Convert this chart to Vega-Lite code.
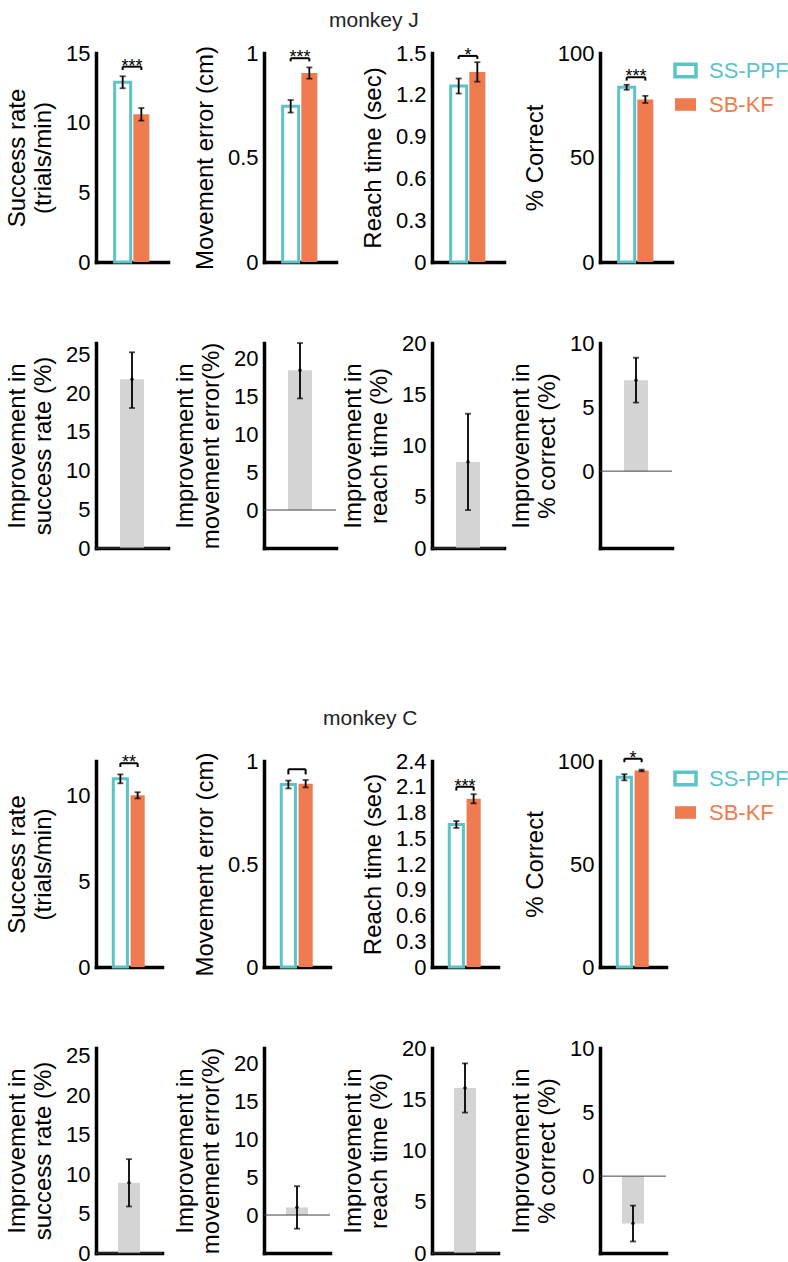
{
"$schema":"https://vega.github.io/schema/vega-lite/v6.json",
"padding":{"left":5,"top":10,"right":0,"bottom":5},
"config":{"font":"Liberation Sans","view":{"stroke":null},
"axis":{"domainColor":"black","domainWidth":3.5,"domainCap":"square","ticks":false,"tickSize":0,"grid":false,"labelFontSize":22,"labelColor":"black","labelPadding":6,"titleFontSize":24,"titleFontWeight":"normal","titleColor":"black","titlePadding":10,"titleLineHeight":26,"zindex":1,"labelOverlap":false,"labelFlush":false,"labelBound":false},
"title":{"font":"Liberation Sans","fontSize":21,"fontWeight":"normal","color":"#222"}},
"datasets":{
"bars":[
{"m":"J","k":"sr","algo":"SS-PPF","v":12.9,"lo":12.47,"hi":13.33,"bk":14.02,"bk2":13.78,"sig":"***"},
{"m":"J","k":"sr","algo":"SB-KF","v":10.6,"lo":10.15,"hi":11.05,"bk":14.02,"bk2":13.78,"sig":"***"},
{"m":"J","k":"me","algo":"SS-PPF","v":0.745,"lo":0.715,"hi":0.775,"bk":0.975,"bk2":0.96,"sig":"***"},
{"m":"J","k":"me","algo":"SB-KF","v":0.904,"lo":0.877,"hi":0.931,"bk":0.975,"bk2":0.96,"sig":"***"},
{"m":"J","k":"rt","algo":"SS-PPF","v":1.263,"lo":1.209,"hi":1.317,"bk":1.479,"bk2":1.457,"sig":"*"},
{"m":"J","k":"rt","algo":"SB-KF","v":1.364,"lo":1.294,"hi":1.434,"bk":1.479,"bk2":1.457,"sig":"*"},
{"m":"J","k":"pc","algo":"SS-PPF","v":83.6,"lo":82.4,"hi":84.8,"bk":88.4,"bk2":86.8,"sig":"***"},
{"m":"J","k":"pc","algo":"SB-KF","v":77.8,"lo":76.1,"hi":79.5,"bk":88.4,"bk2":86.8,"sig":"***"},
{"m":"C","k":"sr","algo":"SS-PPF","v":10.96,"lo":10.7,"hi":11.22,"bk":11.87,"bk2":11.65,"sig":"**"},
{"m":"C","k":"sr","algo":"SB-KF","v":10.0,"lo":9.82,"hi":10.18,"bk":11.87,"bk2":11.65,"sig":"**"},
{"m":"C","k":"me","algo":"SS-PPF","v":0.886,"lo":0.867,"hi":0.905,"bk":0.96,"bk2":0.935,"sig":""},
{"m":"C","k":"me","algo":"SB-KF","v":0.89,"lo":0.872,"hi":0.908,"bk":0.96,"bk2":0.935,"sig":""},
{"m":"C","k":"rt","algo":"SS-PPF","v":1.66,"lo":1.62,"hi":1.7,"bk":2.1,"bk2":2.055,"sig":"***"},
{"m":"C","k":"rt","algo":"SB-KF","v":1.96,"lo":1.907,"hi":2.013,"bk":2.1,"bk2":2.055,"sig":"***"},
{"m":"C","k":"pc","algo":"SS-PPF","v":92.1,"lo":90.6,"hi":93.6,"bk":101.1,"bk2":99.4,"sig":"*"},
{"m":"C","k":"pc","algo":"SB-KF","v":95.4,"lo":95.0,"hi":95.8,"bk":101.1,"bk2":99.4,"sig":"*"}
],
"imp":[
{"m":"J","k":"sr","v":21.8,"lo":18.1,"hi":25.3},
{"m":"J","k":"me","v":18.4,"lo":14.7,"hi":22.0},
{"m":"J","k":"rt","v":8.4,"lo":3.7,"hi":13.1},
{"m":"J","k":"pc","v":7.1,"lo":5.35,"hi":8.85},
{"m":"C","k":"sr","v":8.9,"lo":5.9,"hi":11.9},
{"m":"C","k":"me","v":1.0,"lo":-1.8,"hi":3.8},
{"m":"C","k":"rt","v":16.1,"lo":13.7,"hi":18.5},
{"m":"C","k":"pc","v":-3.7,"lo":-5.1,"hi":-2.3}
],
"blank":[{"z":0}]
},
"columns":4,"spacing":{"row":81,"column":96},"bounds":"flush","align":"each",
"resolve":{"scale":{"fill":"independent","stroke":"independent"},"legend":{"fill":"independent","stroke":"independent"}},
"concat":[
{"width":72,"height":209,"data":{"name":"bars"},"transform":[{"filter":"datum.m=='J' && datum.k=='sr'"}],
"layer":[
{"mark":{"type":"bar","strokeWidth":3},"encoding":{
"x":{"field":"algo","type":"nominal","scale":{"domain":["SS-PPF","SB-KF"],"paddingInner":0.143,"paddingOuter":1.128},"axis":{"labels":false,"title":null}},
"y":{"field":"v","type":"quantitative","scale":{"domain":[0,15],"nice":false},"axis":{"values":[0,5,10,15],"tickCount":12,"format":"~f","title":["Success rate","(trials/min)"]}},
"fill":{"condition":{"test":"datum.algo=='SS-PPF'","value":"white"},"value":"#ee7c50"},
"stroke":{"condition":{"test":"datum.algo=='SS-PPF'","value":"#5bc4c8"},"value":"transparent"}}},
{"mark":{"type":"rule","color":"black","strokeWidth":1.8},"encoding":{"x":{"field":"algo","type":"nominal"},"y":{"field":"lo","type":"quantitative"},"y2":{"field":"hi"}}},
{"mark":{"type":"tick","color":"black","size":6,"thickness":1.8},"encoding":{"x":{"field":"algo","type":"nominal"},"y":{"field":"lo","type":"quantitative"}}},
{"mark":{"type":"tick","color":"black","size":6,"thickness":1.8},"encoding":{"x":{"field":"algo","type":"nominal"},"y":{"field":"hi","type":"quantitative"}}},
{"mark":{"type":"line","color":"black","strokeWidth":2},"encoding":{"x":{"field":"algo","type":"nominal"},"y":{"field":"bk","type":"quantitative"}}},
{"mark":{"type":"rule","color":"black","strokeWidth":2},"encoding":{"x":{"field":"algo","type":"nominal"},"y":{"field":"bk","type":"quantitative"},"y2":{"field":"bk2"}}},
{"transform":[{"filter":"datum.algo=='SS-PPF'"}],"mark":{"type":"text","fontSize":18,"baseline":"alphabetic","dy":5,"color":"black"},"encoding":{"x":{"field":"algo","type":"nominal","bandPosition":1.083},"y":{"field":"bk","type":"quantitative"},"text":{"field":"sig"}}}
]},
{"width":72,"height":209,"data":{"name":"bars"},"transform":[{"filter":"datum.m=='J' && datum.k=='me'"}],
"title":{"text":"monkey J","anchor":"start","frame":"group","dx":65,"offset":11},
"layer":[
{"mark":{"type":"bar","strokeWidth":3},"encoding":{
"x":{"field":"algo","type":"nominal","scale":{"domain":["SS-PPF","SB-KF"],"paddingInner":0.143,"paddingOuter":1.128},"axis":{"labels":false,"title":null}},
"y":{"field":"v","type":"quantitative","scale":{"domain":[0,1],"nice":false},"axis":{"values":[0,0.5,1],"tickCount":12,"format":"~f","title":"Movement error (cm)"}},
"fill":{"condition":{"test":"datum.algo=='SS-PPF'","value":"white"},"value":"#ee7c50"},
"stroke":{"condition":{"test":"datum.algo=='SS-PPF'","value":"#5bc4c8"},"value":"transparent"}}},
{"mark":{"type":"rule","color":"black","strokeWidth":1.8},"encoding":{"x":{"field":"algo","type":"nominal"},"y":{"field":"lo","type":"quantitative"},"y2":{"field":"hi"}}},
{"mark":{"type":"tick","color":"black","size":6,"thickness":1.8},"encoding":{"x":{"field":"algo","type":"nominal"},"y":{"field":"lo","type":"quantitative"}}},
{"mark":{"type":"tick","color":"black","size":6,"thickness":1.8},"encoding":{"x":{"field":"algo","type":"nominal"},"y":{"field":"hi","type":"quantitative"}}},
{"mark":{"type":"line","color":"black","strokeWidth":2},"encoding":{"x":{"field":"algo","type":"nominal"},"y":{"field":"bk","type":"quantitative"}}},
{"mark":{"type":"rule","color":"black","strokeWidth":2},"encoding":{"x":{"field":"algo","type":"nominal"},"y":{"field":"bk","type":"quantitative"},"y2":{"field":"bk2"}}},
{"transform":[{"filter":"datum.algo=='SS-PPF'"}],"mark":{"type":"text","fontSize":18,"baseline":"alphabetic","dy":5,"color":"black"},"encoding":{"x":{"field":"algo","type":"nominal","bandPosition":1.083},"y":{"field":"bk","type":"quantitative"},"text":{"field":"sig"}}}
]},
{"width":72,"height":209,"data":{"name":"bars"},"transform":[{"filter":"datum.m=='J' && datum.k=='rt'"}],
"layer":[
{"mark":{"type":"bar","strokeWidth":3},"encoding":{
"x":{"field":"algo","type":"nominal","scale":{"domain":["SS-PPF","SB-KF"],"paddingInner":0.143,"paddingOuter":1.128},"axis":{"labels":false,"title":null}},
"y":{"field":"v","type":"quantitative","scale":{"domain":[0,1.5],"nice":false},"axis":{"values":[0,0.3,0.6,0.9,1.2,1.5],"tickCount":12,"format":"~f","labelOverlap":false,"title":"Reach time (sec)"}},
"fill":{"condition":{"test":"datum.algo=='SS-PPF'","value":"white"},"value":"#ee7c50"},
"stroke":{"condition":{"test":"datum.algo=='SS-PPF'","value":"#5bc4c8"},"value":"transparent"}}},
{"mark":{"type":"rule","color":"black","strokeWidth":1.8},"encoding":{"x":{"field":"algo","type":"nominal"},"y":{"field":"lo","type":"quantitative"},"y2":{"field":"hi"}}},
{"mark":{"type":"tick","color":"black","size":6,"thickness":1.8},"encoding":{"x":{"field":"algo","type":"nominal"},"y":{"field":"lo","type":"quantitative"}}},
{"mark":{"type":"tick","color":"black","size":6,"thickness":1.8},"encoding":{"x":{"field":"algo","type":"nominal"},"y":{"field":"hi","type":"quantitative"}}},
{"mark":{"type":"line","color":"black","strokeWidth":2},"encoding":{"x":{"field":"algo","type":"nominal"},"y":{"field":"bk","type":"quantitative"}}},
{"mark":{"type":"rule","color":"black","strokeWidth":2},"encoding":{"x":{"field":"algo","type":"nominal"},"y":{"field":"bk","type":"quantitative"},"y2":{"field":"bk2"}}},
{"transform":[{"filter":"datum.algo=='SS-PPF'"}],"mark":{"type":"text","fontSize":18,"baseline":"alphabetic","dy":5,"color":"black"},"encoding":{"x":{"field":"algo","type":"nominal","bandPosition":1.083},"y":{"field":"bk","type":"quantitative"},"text":{"field":"sig"}}}
]},
{"width":72,"height":209,"data":{"name":"bars"},"transform":[{"filter":"datum.m=='J' && datum.k=='pc'"}],
"layer":[
{"mark":{"type":"bar","strokeWidth":3},"encoding":{
"x":{"field":"algo","type":"nominal","scale":{"domain":["SS-PPF","SB-KF"],"paddingInner":0.143,"paddingOuter":1.128},"axis":{"labels":false,"title":null}},
"y":{"field":"v","type":"quantitative","scale":{"domain":[0,100],"nice":false},"axis":{"values":[0,50,100],"tickCount":12,"format":"~f","title":"% Correct"}},
"fill":{"field":"algo","type":"nominal","scale":{"domain":["SS-PPF","SB-KF"],"range":["white","#ee7c50"]},
 "legend":{"title":null,"orient":"right","offset":-4,"padding":5,"symbolType":"M-1,-0.6H1V0.6H-1Z","symbolSize":441,"symbolStrokeWidth":3.5,"labelFontSize":22,"labelOffset":11,"rowPadding":7,"labelFont":"Liberation Sans",
  "encode":{"labels":{"update":{"fill":{"signal":"datum.label=='SS-PPF' ? '#5bc4c8' : '#ee7c50'"}}}}
 }
},
"stroke":{"field":"algo","type":"nominal","scale":{"domain":["SS-PPF","SB-KF"],"range":["#5bc4c8","transparent"]},
 "legend":{"title":null,"orient":"right","offset":-4,"padding":5,"symbolType":"M-1,-0.6H1V0.6H-1Z","symbolSize":441,"symbolStrokeWidth":3.5,"labelFontSize":22,"labelOffset":11,"rowPadding":7,"labelFont":"Liberation Sans",
  "encode":{"labels":{"update":{"fill":{"signal":"datum.label=='SS-PPF' ? '#5bc4c8' : '#ee7c50'"}}}}
 }
}
}},
{"mark":{"type":"rule","color":"black","strokeWidth":1.8},"encoding":{"x":{"field":"algo","type":"nominal"},"y":{"field":"lo","type":"quantitative"},"y2":{"field":"hi"}}},
{"mark":{"type":"tick","color":"black","size":6,"thickness":1.8},"encoding":{"x":{"field":"algo","type":"nominal"},"y":{"field":"lo","type":"quantitative"}}},
{"mark":{"type":"tick","color":"black","size":6,"thickness":1.8},"encoding":{"x":{"field":"algo","type":"nominal"},"y":{"field":"hi","type":"quantitative"}}},
{"mark":{"type":"line","color":"black","strokeWidth":2},"encoding":{"x":{"field":"algo","type":"nominal"},"y":{"field":"bk","type":"quantitative"}}},
{"mark":{"type":"rule","color":"black","strokeWidth":2},"encoding":{"x":{"field":"algo","type":"nominal"},"y":{"field":"bk","type":"quantitative"},"y2":{"field":"bk2"}}},
{"transform":[{"filter":"datum.algo=='SS-PPF'"}],"mark":{"type":"text","fontSize":18,"baseline":"alphabetic","dy":5,"color":"black"},"encoding":{"x":{"field":"algo","type":"nominal","bandPosition":1.083},"y":{"field":"bk","type":"quantitative"},"text":{"field":"sig"}}}
]},
{"width":72,"height":205,"data":{"name":"imp"},"transform":[{"filter":"datum.m=='J' && datum.k=='sr'"}],
"layer":[
{"mark":{"type":"bar","color":"#d4d4d4"},"encoding":{"x":{"field":"m","type":"nominal","scale":{"paddingInner":0,"paddingOuter":1.35},"axis":{"labels":false,"title":null}},"y":{"field":"v","type":"quantitative","scale":{"domain":[0,26.5],"nice":false},"axis":{"values":[0,5,10,15,20,25],"tickCount":12,"format":"~f","title":["Improvement in","success rate (%)"]}}}},
{"mark":{"type":"rule","color":"#444","strokeWidth":1},"encoding":{"y":{"datum":0}}},
{"mark":{"type":"rule","color":"black","strokeWidth":1.8},"encoding":{"x":{"field":"m","type":"nominal"},"y":{"field":"lo","type":"quantitative"},"y2":{"field":"hi"}}},
{"mark":{"type":"tick","color":"black","size":6,"thickness":1.8},"encoding":{"x":{"field":"m","type":"nominal"},"y":{"field":"lo","type":"quantitative"}}},
{"mark":{"type":"tick","color":"black","size":6,"thickness":1.8},"encoding":{"x":{"field":"m","type":"nominal"},"y":{"field":"hi","type":"quantitative"}}},
{"mark":{"type":"point","filled":true,"color":"black","size":12,"opacity":1},"encoding":{"x":{"field":"m","type":"nominal"},"y":{"field":"v","type":"quantitative"}}}
]},
{"width":72,"height":205,"data":{"name":"imp"},"transform":[{"filter":"datum.m=='J' && datum.k=='me'"}],
"layer":[
{"mark":{"type":"bar","color":"#d4d4d4"},"encoding":{"x":{"field":"m","type":"nominal","scale":{"paddingInner":0,"paddingOuter":1.35},"axis":{"labels":false,"title":null}},"y":{"field":"v","type":"quantitative","scale":{"domain":[-5,22],"nice":false},"axis":{"values":[0,5,10,15,20],"tickCount":12,"format":"~f","title":["Improvement in","movement error(%)"]}}}},
{"mark":{"type":"rule","color":"#444","strokeWidth":1},"encoding":{"y":{"datum":0}}},
{"mark":{"type":"rule","color":"black","strokeWidth":1.8},"encoding":{"x":{"field":"m","type":"nominal"},"y":{"field":"lo","type":"quantitative"},"y2":{"field":"hi"}}},
{"mark":{"type":"tick","color":"black","size":6,"thickness":1.8},"encoding":{"x":{"field":"m","type":"nominal"},"y":{"field":"lo","type":"quantitative"}}},
{"mark":{"type":"tick","color":"black","size":6,"thickness":1.8},"encoding":{"x":{"field":"m","type":"nominal"},"y":{"field":"hi","type":"quantitative"}}},
{"mark":{"type":"point","filled":true,"color":"black","size":12,"opacity":1},"encoding":{"x":{"field":"m","type":"nominal"},"y":{"field":"v","type":"quantitative"}}}
]},
{"width":72,"height":205,"data":{"name":"imp"},"transform":[{"filter":"datum.m=='J' && datum.k=='rt'"}],
"layer":[
{"mark":{"type":"bar","color":"#d4d4d4"},"encoding":{"x":{"field":"m","type":"nominal","scale":{"paddingInner":0,"paddingOuter":1.35},"axis":{"labels":false,"title":null}},"y":{"field":"v","type":"quantitative","scale":{"domain":[0,20],"nice":false},"axis":{"values":[0,5,10,15,20],"tickCount":12,"format":"~f","title":["Improvement in","reach time (%)"]}}}},
{"mark":{"type":"rule","color":"#444","strokeWidth":1},"encoding":{"y":{"datum":0}}},
{"mark":{"type":"rule","color":"black","strokeWidth":1.8},"encoding":{"x":{"field":"m","type":"nominal"},"y":{"field":"lo","type":"quantitative"},"y2":{"field":"hi"}}},
{"mark":{"type":"tick","color":"black","size":6,"thickness":1.8},"encoding":{"x":{"field":"m","type":"nominal"},"y":{"field":"lo","type":"quantitative"}}},
{"mark":{"type":"tick","color":"black","size":6,"thickness":1.8},"encoding":{"x":{"field":"m","type":"nominal"},"y":{"field":"hi","type":"quantitative"}}},
{"mark":{"type":"point","filled":true,"color":"black","size":12,"opacity":1},"encoding":{"x":{"field":"m","type":"nominal"},"y":{"field":"v","type":"quantitative"}}}
]},
{"width":72,"height":205,"data":{"name":"imp"},"transform":[{"filter":"datum.m=='J' && datum.k=='pc'"}],
"layer":[
{"mark":{"type":"bar","color":"#d4d4d4"},"encoding":{"x":{"field":"m","type":"nominal","scale":{"paddingInner":0,"paddingOuter":1.35},"axis":{"labels":false,"title":null}},"y":{"field":"v","type":"quantitative","scale":{"domain":[-6,10],"nice":false},"axis":{"values":[0,5,10],"tickCount":12,"format":"~f","title":["Improvement in","% correct (%)"]}}}},
{"mark":{"type":"rule","color":"#444","strokeWidth":1},"encoding":{"y":{"datum":0}}},
{"mark":{"type":"rule","color":"black","strokeWidth":1.8},"encoding":{"x":{"field":"m","type":"nominal"},"y":{"field":"lo","type":"quantitative"},"y2":{"field":"hi"}}},
{"mark":{"type":"tick","color":"black","size":6,"thickness":1.8},"encoding":{"x":{"field":"m","type":"nominal"},"y":{"field":"lo","type":"quantitative"}}},
{"mark":{"type":"tick","color":"black","size":6,"thickness":1.8},"encoding":{"x":{"field":"m","type":"nominal"},"y":{"field":"hi","type":"quantitative"}}},
{"mark":{"type":"point","filled":true,"color":"black","size":12,"opacity":1},"encoding":{"x":{"field":"m","type":"nominal"},"y":{"field":"v","type":"quantitative"}}}
]},
{"width":72,"height":51,"data":{"name":"blank"},"mark":{"type":"point","opacity":0},"encoding":{}},
{"width":72,"height":51,"data":{"name":"blank"},"mark":{"type":"point","opacity":0},"encoding":{}},
{"width":72,"height":51,"data":{"name":"blank"},"mark":{"type":"point","opacity":0},"encoding":{}},
{"width":72,"height":51,"data":{"name":"blank"},"mark":{"type":"point","opacity":0},"encoding":{}},
{"width":66,"height":206,"data":{"name":"bars"},"transform":[{"filter":"datum.m=='C' && datum.k=='sr'"}],
"layer":[
{"mark":{"type":"bar","strokeWidth":3},"encoding":{
"x":{"field":"algo","type":"nominal","scale":{"domain":["SS-PPF","SB-KF"],"paddingInner":0.18,"paddingOuter":1.09},"axis":{"labels":false,"title":null}},
"y":{"field":"v","type":"quantitative","scale":{"domain":[0,12],"nice":false},"axis":{"values":[0,5,10],"tickCount":12,"format":"~f","title":["Success rate","(trials/min)"]}},
"fill":{"condition":{"test":"datum.algo=='SS-PPF'","value":"white"},"value":"#ee7c50"},
"stroke":{"condition":{"test":"datum.algo=='SS-PPF'","value":"#5bc4c8"},"value":"transparent"}}},
{"mark":{"type":"rule","color":"black","strokeWidth":1.8},"encoding":{"x":{"field":"algo","type":"nominal"},"y":{"field":"lo","type":"quantitative"},"y2":{"field":"hi"}}},
{"mark":{"type":"tick","color":"black","size":6,"thickness":1.8},"encoding":{"x":{"field":"algo","type":"nominal"},"y":{"field":"lo","type":"quantitative"}}},
{"mark":{"type":"tick","color":"black","size":6,"thickness":1.8},"encoding":{"x":{"field":"algo","type":"nominal"},"y":{"field":"hi","type":"quantitative"}}},
{"mark":{"type":"line","color":"black","strokeWidth":2},"encoding":{"x":{"field":"algo","type":"nominal"},"y":{"field":"bk","type":"quantitative"}}},
{"mark":{"type":"rule","color":"black","strokeWidth":2},"encoding":{"x":{"field":"algo","type":"nominal"},"y":{"field":"bk","type":"quantitative"},"y2":{"field":"bk2"}}},
{"transform":[{"filter":"datum.algo=='SS-PPF'"}],"mark":{"type":"text","fontSize":18,"baseline":"alphabetic","dy":5,"color":"black"},"encoding":{"x":{"field":"algo","type":"nominal","bandPosition":1.11},"y":{"field":"bk","type":"quantitative"},"text":{"field":"sig"}}}
]},
{"width":66,"height":206,"data":{"name":"bars"},"transform":[{"filter":"datum.m=='C' && datum.k=='me'"}],
"title":{"text":"monkey C","anchor":"start","frame":"group","dx":59,"offset":21},
"layer":[
{"mark":{"type":"bar","strokeWidth":3},"encoding":{
"x":{"field":"algo","type":"nominal","scale":{"domain":["SS-PPF","SB-KF"],"paddingInner":0.18,"paddingOuter":1.09},"axis":{"labels":false,"title":null}},
"y":{"field":"v","type":"quantitative","scale":{"domain":[0,1],"nice":false},"axis":{"values":[0,0.5,1],"tickCount":12,"format":"~f","title":"Movement error (cm)"}},
"fill":{"condition":{"test":"datum.algo=='SS-PPF'","value":"white"},"value":"#ee7c50"},
"stroke":{"condition":{"test":"datum.algo=='SS-PPF'","value":"#5bc4c8"},"value":"transparent"}}},
{"mark":{"type":"rule","color":"black","strokeWidth":1.8},"encoding":{"x":{"field":"algo","type":"nominal"},"y":{"field":"lo","type":"quantitative"},"y2":{"field":"hi"}}},
{"mark":{"type":"tick","color":"black","size":6,"thickness":1.8},"encoding":{"x":{"field":"algo","type":"nominal"},"y":{"field":"lo","type":"quantitative"}}},
{"mark":{"type":"tick","color":"black","size":6,"thickness":1.8},"encoding":{"x":{"field":"algo","type":"nominal"},"y":{"field":"hi","type":"quantitative"}}},
{"mark":{"type":"line","color":"black","strokeWidth":2},"encoding":{"x":{"field":"algo","type":"nominal"},"y":{"field":"bk","type":"quantitative"}}},
{"mark":{"type":"rule","color":"black","strokeWidth":2},"encoding":{"x":{"field":"algo","type":"nominal"},"y":{"field":"bk","type":"quantitative"},"y2":{"field":"bk2"}}},
{"transform":[{"filter":"datum.algo=='SS-PPF'"}],"mark":{"type":"text","fontSize":18,"baseline":"alphabetic","dy":5,"color":"black"},"encoding":{"x":{"field":"algo","type":"nominal","bandPosition":1.11},"y":{"field":"bk","type":"quantitative"},"text":{"field":"sig"}}}
]},
{"width":66,"height":206,"data":{"name":"bars"},"transform":[{"filter":"datum.m=='C' && datum.k=='rt'"}],
"layer":[
{"mark":{"type":"bar","strokeWidth":3},"encoding":{
"x":{"field":"algo","type":"nominal","scale":{"domain":["SS-PPF","SB-KF"],"paddingInner":0.18,"paddingOuter":1.09},"axis":{"labels":false,"title":null}},
"y":{"field":"v","type":"quantitative","scale":{"domain":[0,2.4],"nice":false},"axis":{"values":[0,0.3,0.6,0.9,1.2,1.5,1.8,2.1,2.4],"tickCount":20,"format":"~f","labelOverlap":false,"title":"Reach time (sec)"}},
"fill":{"condition":{"test":"datum.algo=='SS-PPF'","value":"white"},"value":"#ee7c50"},
"stroke":{"condition":{"test":"datum.algo=='SS-PPF'","value":"#5bc4c8"},"value":"transparent"}}},
{"mark":{"type":"rule","color":"black","strokeWidth":1.8},"encoding":{"x":{"field":"algo","type":"nominal"},"y":{"field":"lo","type":"quantitative"},"y2":{"field":"hi"}}},
{"mark":{"type":"tick","color":"black","size":6,"thickness":1.8},"encoding":{"x":{"field":"algo","type":"nominal"},"y":{"field":"lo","type":"quantitative"}}},
{"mark":{"type":"tick","color":"black","size":6,"thickness":1.8},"encoding":{"x":{"field":"algo","type":"nominal"},"y":{"field":"hi","type":"quantitative"}}},
{"mark":{"type":"line","color":"black","strokeWidth":2},"encoding":{"x":{"field":"algo","type":"nominal"},"y":{"field":"bk","type":"quantitative"}}},
{"mark":{"type":"rule","color":"black","strokeWidth":2},"encoding":{"x":{"field":"algo","type":"nominal"},"y":{"field":"bk","type":"quantitative"},"y2":{"field":"bk2"}}},
{"transform":[{"filter":"datum.algo=='SS-PPF'"}],"mark":{"type":"text","fontSize":18,"baseline":"alphabetic","dy":5,"color":"black"},"encoding":{"x":{"field":"algo","type":"nominal","bandPosition":1.11},"y":{"field":"bk","type":"quantitative"},"text":{"field":"sig"}}}
]},
{"width":66,"height":206,"data":{"name":"bars"},"transform":[{"filter":"datum.m=='C' && datum.k=='pc'"}],
"layer":[
{"mark":{"type":"bar","strokeWidth":3},"encoding":{
"x":{"field":"algo","type":"nominal","scale":{"domain":["SS-PPF","SB-KF"],"paddingInner":0.18,"paddingOuter":1.09},"axis":{"labels":false,"title":null}},
"y":{"field":"v","type":"quantitative","scale":{"domain":[0,100],"nice":false},"axis":{"values":[0,50,100],"tickCount":12,"format":"~f","title":"% Correct"}},
"fill":{"field":"algo","type":"nominal","scale":{"domain":["SS-PPF","SB-KF"],"range":["white","#ee7c50"]},
 "legend":{"title":null,"orient":"right","offset":2,"padding":5,"symbolType":"M-1,-0.6H1V0.6H-1Z","symbolSize":441,"symbolStrokeWidth":3.5,"labelFontSize":22,"labelOffset":11,"rowPadding":7,"labelFont":"Liberation Sans",
  "encode":{"labels":{"update":{"fill":{"signal":"datum.label=='SS-PPF' ? '#5bc4c8' : '#ee7c50'"}}}}
 }
},
"stroke":{"field":"algo","type":"nominal","scale":{"domain":["SS-PPF","SB-KF"],"range":["#5bc4c8","transparent"]},
 "legend":{"title":null,"orient":"right","offset":2,"padding":5,"symbolType":"M-1,-0.6H1V0.6H-1Z","symbolSize":441,"symbolStrokeWidth":3.5,"labelFontSize":22,"labelOffset":11,"rowPadding":7,"labelFont":"Liberation Sans",
  "encode":{"labels":{"update":{"fill":{"signal":"datum.label=='SS-PPF' ? '#5bc4c8' : '#ee7c50'"}}}}
 }
}
}},
{"mark":{"type":"rule","color":"black","strokeWidth":1.8},"encoding":{"x":{"field":"algo","type":"nominal"},"y":{"field":"lo","type":"quantitative"},"y2":{"field":"hi"}}},
{"mark":{"type":"tick","color":"black","size":6,"thickness":1.8},"encoding":{"x":{"field":"algo","type":"nominal"},"y":{"field":"lo","type":"quantitative"}}},
{"mark":{"type":"tick","color":"black","size":6,"thickness":1.8},"encoding":{"x":{"field":"algo","type":"nominal"},"y":{"field":"hi","type":"quantitative"}}},
{"mark":{"type":"line","color":"black","strokeWidth":2},"encoding":{"x":{"field":"algo","type":"nominal"},"y":{"field":"bk","type":"quantitative"}}},
{"mark":{"type":"rule","color":"black","strokeWidth":2},"encoding":{"x":{"field":"algo","type":"nominal"},"y":{"field":"bk","type":"quantitative"},"y2":{"field":"bk2"}}},
{"transform":[{"filter":"datum.algo=='SS-PPF'"}],"mark":{"type":"text","fontSize":18,"baseline":"alphabetic","dy":5,"color":"black"},"encoding":{"x":{"field":"algo","type":"nominal","bandPosition":1.11},"y":{"field":"bk","type":"quantitative"},"text":{"field":"sig"}}}
]},
{"width":66,"height":205,"data":{"name":"imp"},"transform":[{"filter":"datum.m=='C' && datum.k=='sr'"}],
"layer":[
{"mark":{"type":"bar","color":"#d4d4d4"},"encoding":{"x":{"field":"m","type":"nominal","scale":{"paddingInner":0,"paddingOuter":1.39},"axis":{"labels":false,"title":null}},"y":{"field":"v","type":"quantitative","scale":{"domain":[0,26],"nice":false},"axis":{"values":[0,5,10,15,20,25],"tickCount":12,"format":"~f","title":["Improvement in","success rate (%)"]}}}},
{"mark":{"type":"rule","color":"#444","strokeWidth":1},"encoding":{"y":{"datum":0}}},
{"mark":{"type":"rule","color":"black","strokeWidth":1.8},"encoding":{"x":{"field":"m","type":"nominal"},"y":{"field":"lo","type":"quantitative"},"y2":{"field":"hi"}}},
{"mark":{"type":"tick","color":"black","size":6,"thickness":1.8},"encoding":{"x":{"field":"m","type":"nominal"},"y":{"field":"lo","type":"quantitative"}}},
{"mark":{"type":"tick","color":"black","size":6,"thickness":1.8},"encoding":{"x":{"field":"m","type":"nominal"},"y":{"field":"hi","type":"quantitative"}}},
{"mark":{"type":"point","filled":true,"color":"black","size":12,"opacity":1},"encoding":{"x":{"field":"m","type":"nominal"},"y":{"field":"v","type":"quantitative"}}}
]},
{"width":66,"height":205,"data":{"name":"imp"},"transform":[{"filter":"datum.m=='C' && datum.k=='me'"}],
"layer":[
{"mark":{"type":"bar","color":"#d4d4d4"},"encoding":{"x":{"field":"m","type":"nominal","scale":{"paddingInner":0,"paddingOuter":1.39},"axis":{"labels":false,"title":null}},"y":{"field":"v","type":"quantitative","scale":{"domain":[-5,22],"nice":false},"axis":{"values":[0,5,10,15,20],"tickCount":12,"format":"~f","title":["Improvement in","movement error(%)"]}}}},
{"mark":{"type":"rule","color":"#444","strokeWidth":1},"encoding":{"y":{"datum":0}}},
{"mark":{"type":"rule","color":"black","strokeWidth":1.8},"encoding":{"x":{"field":"m","type":"nominal"},"y":{"field":"lo","type":"quantitative"},"y2":{"field":"hi"}}},
{"mark":{"type":"tick","color":"black","size":6,"thickness":1.8},"encoding":{"x":{"field":"m","type":"nominal"},"y":{"field":"lo","type":"quantitative"}}},
{"mark":{"type":"tick","color":"black","size":6,"thickness":1.8},"encoding":{"x":{"field":"m","type":"nominal"},"y":{"field":"hi","type":"quantitative"}}},
{"mark":{"type":"point","filled":true,"color":"black","size":12,"opacity":1},"encoding":{"x":{"field":"m","type":"nominal"},"y":{"field":"v","type":"quantitative"}}}
]},
{"width":66,"height":205,"data":{"name":"imp"},"transform":[{"filter":"datum.m=='C' && datum.k=='rt'"}],
"layer":[
{"mark":{"type":"bar","color":"#d4d4d4"},"encoding":{"x":{"field":"m","type":"nominal","scale":{"paddingInner":0,"paddingOuter":1.39},"axis":{"labels":false,"title":null}},"y":{"field":"v","type":"quantitative","scale":{"domain":[0,20],"nice":false},"axis":{"values":[0,5,10,15,20],"tickCount":12,"format":"~f","title":["Improvement in","reach time (%)"]}}}},
{"mark":{"type":"rule","color":"#444","strokeWidth":1},"encoding":{"y":{"datum":0}}},
{"mark":{"type":"rule","color":"black","strokeWidth":1.8},"encoding":{"x":{"field":"m","type":"nominal"},"y":{"field":"lo","type":"quantitative"},"y2":{"field":"hi"}}},
{"mark":{"type":"tick","color":"black","size":6,"thickness":1.8},"encoding":{"x":{"field":"m","type":"nominal"},"y":{"field":"lo","type":"quantitative"}}},
{"mark":{"type":"tick","color":"black","size":6,"thickness":1.8},"encoding":{"x":{"field":"m","type":"nominal"},"y":{"field":"hi","type":"quantitative"}}},
{"mark":{"type":"point","filled":true,"color":"black","size":12,"opacity":1},"encoding":{"x":{"field":"m","type":"nominal"},"y":{"field":"v","type":"quantitative"}}}
]},
{"width":66,"height":205,"data":{"name":"imp"},"transform":[{"filter":"datum.m=='C' && datum.k=='pc'"}],
"layer":[
{"mark":{"type":"bar","color":"#d4d4d4"},"encoding":{"x":{"field":"m","type":"nominal","scale":{"paddingInner":0,"paddingOuter":1.39},"axis":{"labels":false,"title":null}},"y":{"field":"v","type":"quantitative","scale":{"domain":[-6,10],"nice":false},"axis":{"values":[0,5,10],"tickCount":12,"format":"~f","title":["Improvement in","% correct (%)"]}}}},
{"mark":{"type":"rule","color":"#444","strokeWidth":1},"encoding":{"y":{"datum":0}}},
{"mark":{"type":"rule","color":"black","strokeWidth":1.8},"encoding":{"x":{"field":"m","type":"nominal"},"y":{"field":"lo","type":"quantitative"},"y2":{"field":"hi"}}},
{"mark":{"type":"tick","color":"black","size":6,"thickness":1.8},"encoding":{"x":{"field":"m","type":"nominal"},"y":{"field":"lo","type":"quantitative"}}},
{"mark":{"type":"tick","color":"black","size":6,"thickness":1.8},"encoding":{"x":{"field":"m","type":"nominal"},"y":{"field":"hi","type":"quantitative"}}},
{"mark":{"type":"point","filled":true,"color":"black","size":12,"opacity":1},"encoding":{"x":{"field":"m","type":"nominal"},"y":{"field":"v","type":"quantitative"}}}
]}
]
}
